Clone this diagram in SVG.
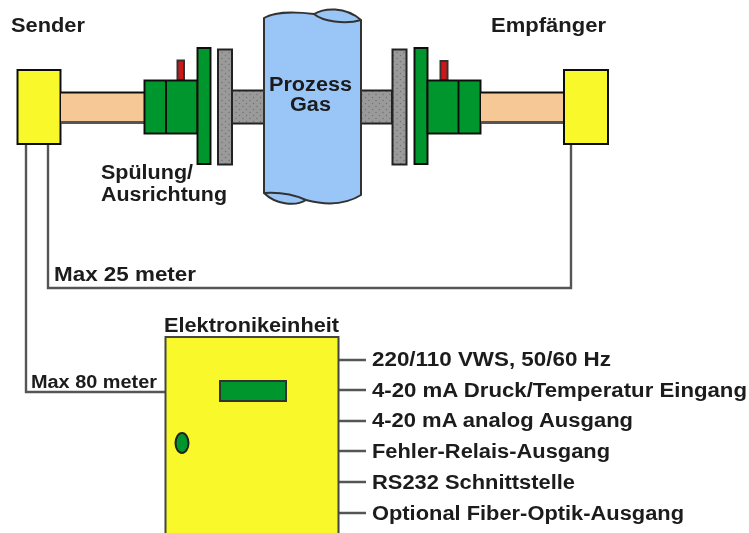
<svg xmlns="http://www.w3.org/2000/svg" width="749" height="533" viewBox="0 0 749 533">
<defs>
<filter id="soft" x="-2%" y="-2%" width="104%" height="104%"><feGaussianBlur stdDeviation="0.45"/></filter>
<pattern id="stipple" width="7" height="6" patternUnits="userSpaceOnUse"><rect width="7" height="6" fill="#9a9a9a"/><circle cx="1.500" cy="1.500" r="0.700" fill="#6f6f6f"/><circle cx="5" cy="4.500" r="0.700" fill="#6f6f6f"/></pattern>
</defs>
<style>
text{font-family:"Liberation Sans",Arial,sans-serif;font-weight:bold;font-size:19.500px;fill:#1a1a1a;stroke:none}
.k{stroke:#111;stroke-width:2}
.y{fill:#f8f82a}.g{fill:#05962f}.p{fill:#f6c896}.h{fill:url(#stipple);stroke:#222;stroke-width:2}
.w{fill:none;stroke:#555;stroke-width:2.400}
</style>
<rect width="749" height="533" fill="#fff"/>
<g filter="url(#soft)">
<g id="connectors">
<path class="w" d="M26 144V392H165"/>
<path class="w" d="M48 144V288H571V144"/>
<path class="w" d="M339 360H366M339 390H366M339 421H366M339 451H366M339 482H366M339 513H366"/>
</g>
<g id="sender"><rect class="y k" x="17.500" y="70" width="43" height="74"/><text x="11" y="32" textLength="74" lengthAdjust="spacingAndGlyphs">Sender</text></g>
<g id="sender-tube"><rect class="p" x="61" y="92" width="83" height="30"/><path d="M61 92.500H144" class="k"/><path d="M61 122.500H144" stroke="#555" stroke-width="3"/></g>
<g id="left-flange">
<rect x="177.500" y="60.500" width="6.500" height="19.500" fill="#d01818" stroke="#333" stroke-width="2"/>
<rect class="g k" x="144.500" y="80.500" width="53" height="53"/><path class="k" d="M166 80V134"/>
<rect class="g k" x="197.500" y="48" width="13" height="116"/>
<rect class="h" x="218" y="49.500" width="14" height="115"/>
<rect class="h" x="232" y="90.500" width="32" height="33"/>
</g>
<g id="right-flange">
<rect class="h" x="360" y="90.500" width="32" height="33"/>
<rect class="h" x="392.500" y="49.500" width="14" height="115"/>
<rect class="g k" x="414.500" y="48" width="13" height="116"/>
<rect x="440.500" y="61" width="7" height="19" fill="#d01818" stroke="#333" stroke-width="2"/>
<rect class="g k" x="427.500" y="80.500" width="53" height="53"/><path class="k" d="M458.500 80V134"/>
</g>
<g id="receiver-tube"><rect class="p" x="481" y="92" width="83" height="30"/><path d="M481 92.500H564" class="k"/><path d="M481 122.500H564" stroke="#555" stroke-width="3"/></g>
<g id="receiver"><rect class="y k" x="564" y="70" width="44" height="74"/><text x="491" y="32" textLength="115" lengthAdjust="spacingAndGlyphs">Empfänger</text></g>
<g id="pipe">
<path d="M264 18C272 13 290 11 314 14C324 8 345 6 361 20V195C345 205 325 205 306 200C295 207 275 204 264 193Z" fill="#99c6f7" stroke="#333" stroke-width="2"/>
<path d="M314 14C322 21 345 25 361 20" fill="none" stroke="#333" stroke-width="2"/>
<path d="M264 193C280 192 295 195 306 200" fill="none" stroke="#333" stroke-width="2"/>
<text x="269" y="91" textLength="83" lengthAdjust="spacingAndGlyphs">Prozess</text>
<text x="290" y="111" textLength="41" lengthAdjust="spacingAndGlyphs">Gas</text>
</g>
<g id="spuelung"><text x="101" y="179" textLength="92" lengthAdjust="spacingAndGlyphs">Spülung/</text><text x="101" y="201" textLength="126" lengthAdjust="spacingAndGlyphs">Ausrichtung</text></g>
<text x="54" y="281" textLength="142" lengthAdjust="spacingAndGlyphs">Max 25 meter</text>
<text x="31" y="388" style="font-size:17.500px" textLength="126" lengthAdjust="spacingAndGlyphs">Max 80 meter</text>
<g id="elektronikeinheit">
<rect class="y" x="165.500" y="337" width="173" height="200" stroke="#444" stroke-width="2"/>
<rect class="g" x="220" y="381" width="66" height="20" stroke="#333" stroke-width="2"/>
<ellipse class="g" cx="182" cy="443" rx="6.500" ry="10" stroke="#222" stroke-width="2"/>
<text x="164" y="332" textLength="175" lengthAdjust="spacingAndGlyphs">Elektronikeinheit</text>
</g>
<g id="labels">
<text x="372" y="366" textLength="239" lengthAdjust="spacingAndGlyphs">220/110 VWS, 50/60 Hz</text>
<text x="372" y="396.500" textLength="375" lengthAdjust="spacingAndGlyphs">4-20 mA Druck/Temperatur Eingang</text>
<text x="372" y="427" textLength="261" lengthAdjust="spacingAndGlyphs">4-20 mA analog Ausgang</text>
<text x="372" y="458" textLength="238" lengthAdjust="spacingAndGlyphs">Fehler-Relais-Ausgang</text>
<text x="372" y="489" textLength="203" lengthAdjust="spacingAndGlyphs">RS232 Schnittstelle</text>
<text x="372" y="520" textLength="312" lengthAdjust="spacingAndGlyphs">Optional Fiber-Optik-Ausgang</text>
</g>
</g>
</svg>
